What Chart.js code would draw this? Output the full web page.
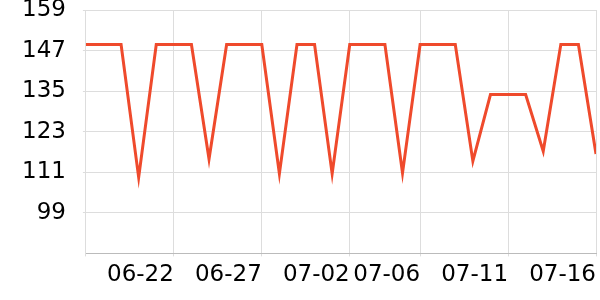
<!DOCTYPE html>
<html>
<head>
<meta charset="utf-8">
<script src="https://cdn.jsdelivr.net/npm/chart.js@4/dist/chart.umd.min.js"></script>
<style>
html,body{margin:0;padding:0;background:#fff;}
#wrap{width:600px;height:300px;}
</style>
</head>
<body>
<div id="wrap"><canvas id="c" width="600" height="300"></canvas></div>
<script>
const dates = ['06-17','06-18','06-19','06-20','06-21','06-22','06-23','06-24','06-25','06-26',
  '06-27','06-28','06-29','06-30','07-01','07-02','07-03','07-04','07-05','07-06',
  '07-07','07-08','07-09','07-10','07-11','07-12','07-13','07-14','07-15','07-16'];
const values = [148.8,148.8,148.8,109.5,148.8,148.8,148.8,114.9,148.8,148.8,
  148.8,110.6,148.8,148.8,110.6,148.8,148.8,148.8,110.8,148.8,
  148.8,148.8,114.3,134,134,134,117.2,148.8,148.8,116.4];
const xTickLabels = ['06-22','06-27','07-02','07-06','07-11','07-16'];
const yTicks = [99,111,123,135,147,159];

const points = values.map((v,i)=>({x:i,y:v}));
const xTickIdx = xTickLabels.map(l=>dates.indexOf(l));

new Chart(document.getElementById('c'), {
  type:'line',
  data:{datasets:[{data:points,borderColor:'#ef4a2c',borderWidth:3,pointRadius:0,tension:0,fill:false}]},
  options:{
    responsive:false,animation:false,devicePixelRatio:1,
    layout:{padding:{left:5,right:4,top:10,bottom:6}},
    plugins:{legend:{display:false},tooltip:{enabled:false}},
    scales:{
      x:{type:'linear',min:0,max:dates.length-1,
        afterBuildTicks:(s)=>{s.ticks=[0].concat(xTickIdx).map(v=>({value:v}));},
        afterFit:(s)=>{s.paddingLeft=0;s.paddingRight=0;},
        ticks:{callback:(v)=> (v===0?'':dates[v]),align:'end',maxRotation:0,autoSkip:false,
          color:'#000',font:{family:'DejaVu Sans',size:23},padding:5},
        grid:{color:'#dddddd',tickLength:3,drawTicks:true},
        border:{color:'#bbbbbb'}},
      y:{min:87,max:159,
        afterBuildTicks:(s)=>{s.ticks=yTicks.map(v=>({value:v}));},
        afterFit:(s)=>{s.paddingTop=0;s.paddingBottom=0;},
        ticks:{color:'#000',font:{family:'DejaVu Sans',size:23},padding:17},
        grid:{color:'#dddddd',tickLength:3},
        border:{color:'#dddddd'}}
    }
  }
});
</script>
</body>
</html>
